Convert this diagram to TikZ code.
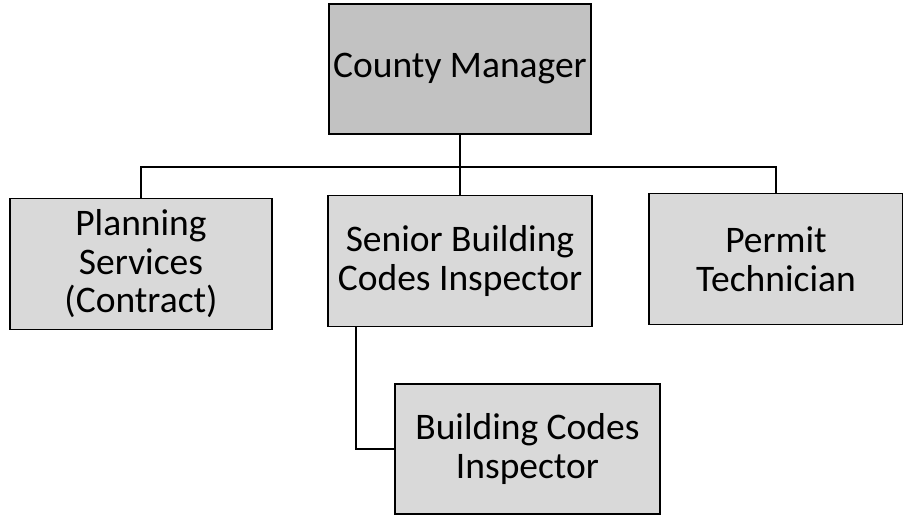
\documentclass[tikz,border=0pt]{standalone}
\usepackage{fontspec}
\setmainfont{Carlito}
\begin{document}
\begin{tikzpicture}[x=1pt,y=-1pt,
  post/.style={draw=black, line width=1.4pt, fill=black!15, rectangle,
    minimum width=262pt, minimum height=131pt, inner sep=0pt,
    align=center, font=\fontsize{37.5}{38.5}\selectfont},
  link/.style={draw=black, line width=1.8pt}]
\useasboundingbox (0,0) rectangle (903,516);
\node[post, fill=black!24, minimum width=262pt, minimum height=130pt] (cm) at (460,69) {County Manager};
\node[post, minimum width=262pt] (pl) at (141,264) {Planning\\Services\\(Contract)};
\node[post, minimum width=264pt] (sr) at (460,261) {Senior Building\\Codes Inspector};
\node[post, minimum width=254pt] (pt) at (776,259) {Permit\\Technician};
\node[post, minimum width=265pt, minimum height=130pt] (bci) at (527.5,449) {Building Codes\\Inspector};
\coordinate (bus) at (460,167);
\coordinate (spine) at (356,0);
\draw[link] (cm.south) -- (bus);
\draw[link] (pl.north) |- (bus) -| (pt.north);
\draw[link] (bus) -- (sr.north);
\draw[link] (sr.south -| spine) |- (bci.west);
\end{tikzpicture}
\end{document}
